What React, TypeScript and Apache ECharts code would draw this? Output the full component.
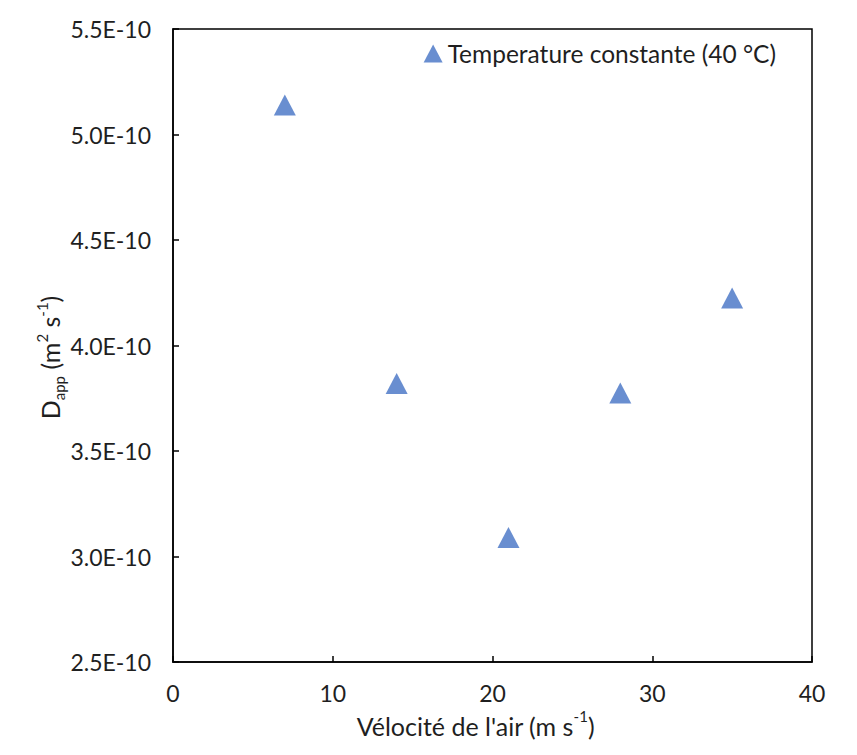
import React, { useEffect, useRef } from "react";
import * as echarts from "echarts";

// Air velocity (m s-1)
const velocities = [7, 14, 21, 28, 35];
// Apparent diffusivity, in units of 1e-10 m2 s-1
const dappE10 = [5.14, 3.82, 3.09, 3.775, 4.225];
const seriesName = "Temperature constante (40 °C)";

const FONT = "Lato";
const TEXT = "#1f1f1f";

export default function App() {
  const ref = useRef<HTMLDivElement>(null);
  useEffect(() => {
    if (!ref.current) return;
    const chart = echarts.init(ref.current, undefined, { renderer: "svg" });
    chart.setOption({
      animation: false,
      backgroundColor: "#ffffff",
      textStyle: { fontFamily: FONT },
      grid: {
        left: 173,
        right: 45,
        top: 29,
        bottom: 93,
        show: true,
        borderColor: "#000",
        borderWidth: 1.5,
      },
      legend: {
        right: 76,
        top: 36,
        itemWidth: 19,
        itemHeight: 18,
        itemGap: 8,
        textStyle: { fontFamily: FONT, fontSize: 24.5, color: TEXT },
        data: [{ name: seriesName, icon: "triangle" }],
      },
      xAxis: {
        type: "value",
        min: 0,
        max: 40,
        interval: 10,
        name: "{t|Vélocité de l'air (m s}{sup|-1}{t|)}",
        nameLocation: "middle",
        nameGap: 44,
        nameTextStyle: {
          padding: [0, 34, 0, 0],
          rich: {
            t: { fontFamily: FONT, fontSize: 25, color: TEXT, lineHeight: 30, verticalAlign: "bottom" },
            sup: { fontFamily: FONT, fontSize: 15, color: TEXT, lineHeight: 30, verticalAlign: "top" },
          },
        },
        axisLine: { show: true, lineStyle: { color: "#000", width: 1.5 } },
        axisTick: { show: true, inside: true, length: 6, lineStyle: { color: "#000", width: 1.5 } },
        axisLabel: { fontFamily: FONT, fontSize: 23, color: TEXT, margin: 19 },
        splitLine: { show: false },
      },
      yAxis: {
        type: "value",
        min: 2.5,
        max: 5.5,
        interval: 0.5,
        name: "{t|D}{sub|app}{t| (m}{sup|2}{t| s}{sup|-1}{t|)}",
        nameLocation: "middle",
        nameRotate: 90,
        nameGap: 107,
        nameMoveOverlap: false,
        nameTextStyle: {
          padding: [0, 24, 0, 0],
          rich: {
            t: { fontFamily: FONT, fontSize: 25, color: TEXT, lineHeight: 32, verticalAlign: "middle" },
            sup: { fontFamily: FONT, fontSize: 15, color: TEXT, lineHeight: 32, verticalAlign: "top" },
            sub: { fontFamily: FONT, fontSize: 15, color: TEXT, lineHeight: 32, verticalAlign: "bottom" },
          },
        },
        axisLine: { show: true, lineStyle: { color: "#000", width: 1.5 } },
        axisTick: { show: true, inside: true, length: 6, lineStyle: { color: "#000", width: 1.5 } },
        axisLabel: {
          fontFamily: FONT,
          fontSize: 23,
          color: TEXT,
          margin: 22,
          formatter: (v: number) => `${v.toFixed(1)}E-10`,
        },
        splitLine: { show: false },
      },
      series: [
        {
          name: seriesName,
          type: "scatter",
          symbol: "triangle",
          symbolSize: [22, 21],
          itemStyle: { color: "#4472C4" },
          data: velocities.map((x, i) => [x, dappE10[i]]),
        },
      ],
    });
    return () => chart.dispose();
  }, []);
  return (
    <div
      ref={ref}
      style={{ position: "absolute", left: 0, top: 0, width: 857, height: 755 }}
    />
  );
}
